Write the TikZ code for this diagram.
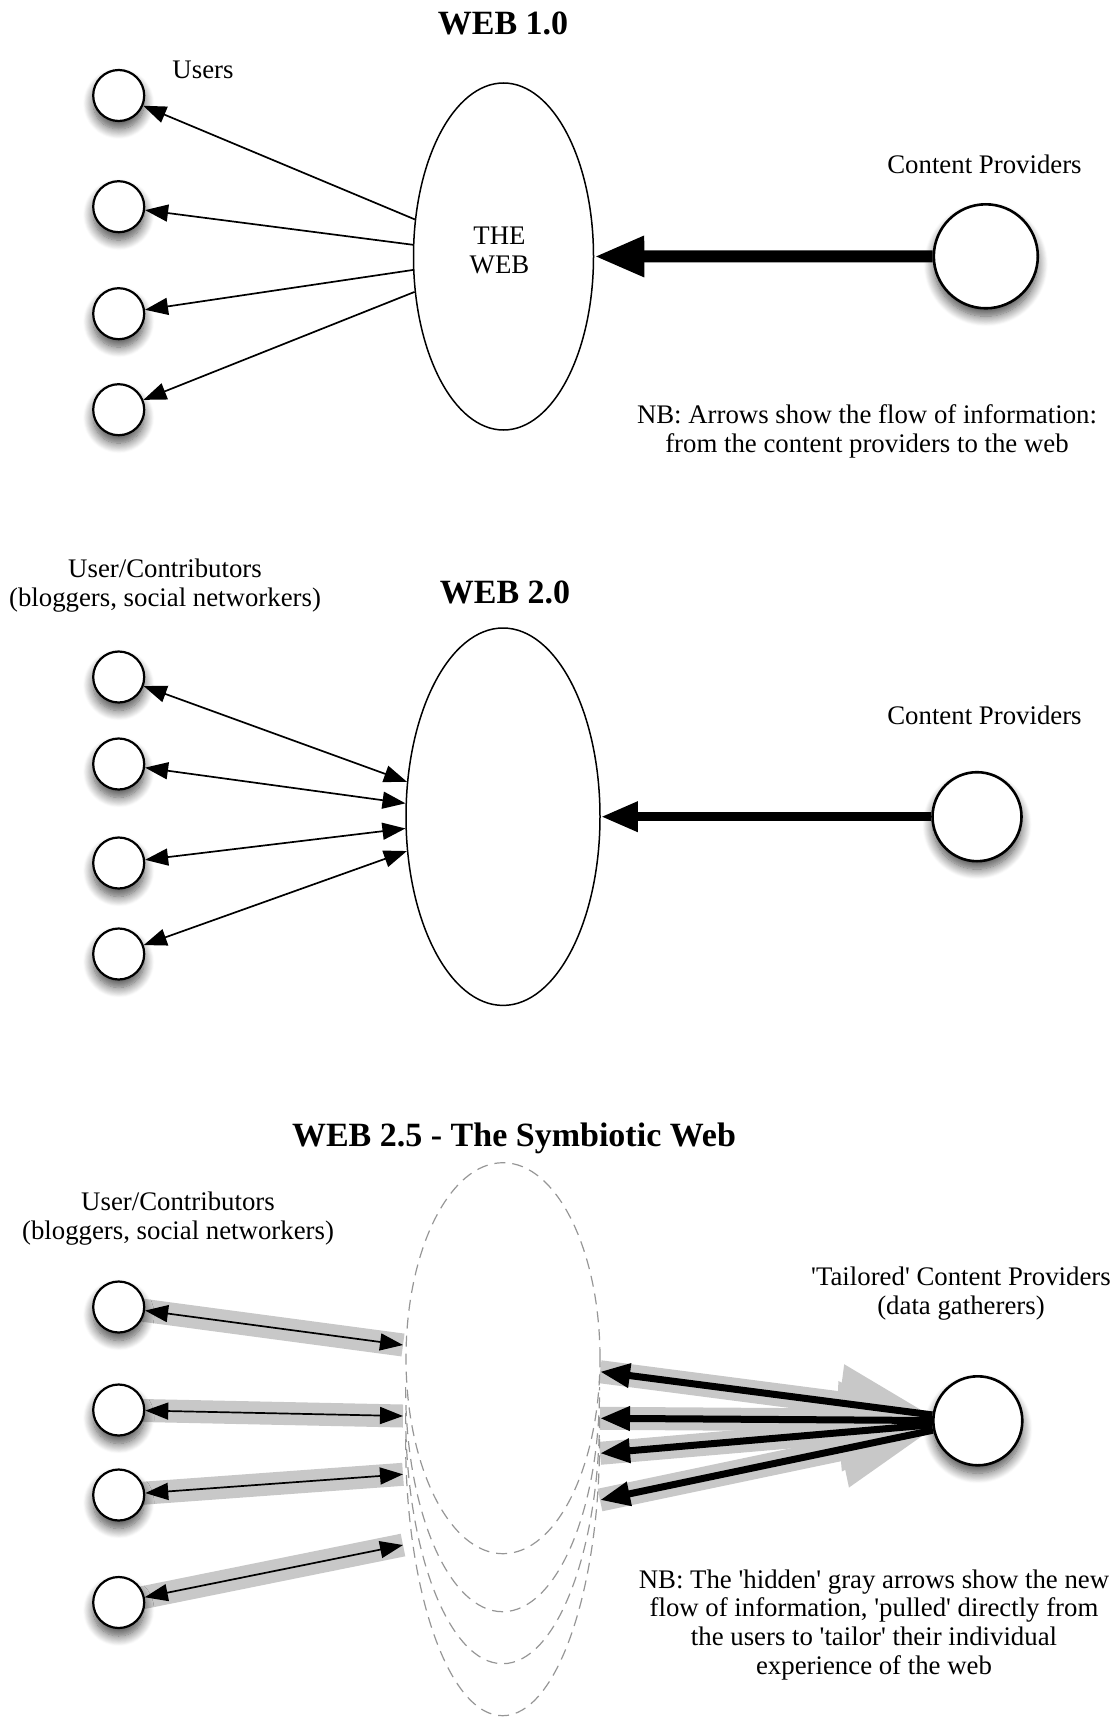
\documentclass[tikz,border=0pt]{standalone}
\usepackage{fontspec}
\setmainfont{Liberation Serif}
\usetikzlibrary{shapes.geometric,arrows.meta,shadows.blur,backgrounds}

\definecolor{bandgray}{RGB}{200,200,200}
\definecolor{dashgray}{RGB}{150,150,150}
\newcommand\lblfont{\fontsize{13.4}{14.3}\selectfont}
\newcommand\ttlfont{\fontsize{17}{20}\selectfont\bfseries}
\newcommand\sqt{\textquotesingle}

\tikzset{
  user/.style={circle, draw, fill=white, line width=1.1pt, minimum size=25.5pt, inner sep=0pt,
    blur shadow={shadow xshift=0pt, shadow yshift=-4pt, shadow opacity=70,
                 shadow blur radius=5pt, shadow blur steps=12}},
  provider/.style={user, line width=1.3pt},
  web/.style={ellipse, draw, line width=0.75pt, inner sep=0pt},
  hiddenline/.style={draw=dashgray, line width=0.6pt, dash pattern=on 5.5pt off 3.5pt},
  hiddenweb/.style={ellipse, inner sep=0pt, minimum width=97pt},
  title/.style={font=\ttlfont, anchor=base, inner sep=0pt},
  lbl/.style={font=\lblfont, anchor=base, align=center, inner sep=0pt},
  pointer/.style={line width=0.85pt, -{Triangle[length=11.5pt,width=8.5pt]}},
  twoway/.style={line width=0.85pt,
    {Triangle[length=11.5pt,width=8.5pt]}-{Triangle[length=11.5pt,width=8.5pt]}},
  band/.style={draw=bandgray, line width=11.5pt},
  pull/.style={line width=3.5pt, -{Triangle[length=15pt,width=11.5pt]}}
}

\begin{document}
\begin{tikzpicture}[x=0.5pt, y=-0.5pt]
\useasboundingbox (0,0) rectangle (1118,1718);

% ---------------- WEB 1.0 ----------------
\node[title] (t1) at (503,34.5) {WEB 1.0};
\node[lbl] (users) at (203,78.3) {Users};
\node[user] (u1) at (118.7,95.5) {};
\node[user] (u2) at (118.7,206.7) {};
\node[user] (u3) at (118.7,313.7) {};
\node[user] (u4) at (118.7,409.7) {};
\node[web, minimum width=90pt, minimum height=173.5pt] (w1) at (503.5,256.5) {};
\node[lbl] (w1txt) at (499.5,273) {THE\\WEB};
\node[provider, minimum size=52pt] (cp1) at (985.8,256.3) {};
\node[lbl] (cp1lbl) at (984.5,173) {Content Providers};
\node[lbl] (nb1) at (867,452.5) {NB: Arrows show the flow of information:\\from the content providers to the web};
\foreach \i in {1,...,4} \draw[pointer] (w1) -- (u\i);
\draw[line width=6pt, -{Triangle[length=25pt,width=19pt]}] (cp1) -- (w1);

% ---------------- WEB 2.0 ----------------
\node[title] (t2) at (505,603) {WEB 2.0};
\node[lbl] (uc2) at (165,606) {User/Contributors\\(bloggers, social networkers)};
\node[user] (v1) at (118.7,677) {};
\node[user] (v2) at (118.7,764) {};
\node[user] (v3) at (118.7,863) {};
\node[user] (v4) at (118.7,954) {};
\node[web, minimum width=97pt, minimum height=188.7pt] (w2) at (503,816.7) {};
\node[provider, minimum size=44.5pt] (cp2) at (977,816.7) {};
\node[lbl] (cp2lbl) at (984.5,724) {Content Providers};
\foreach \i in {1,...,4} \draw[twoway] (v\i) -- (w2);
\draw[line width=4.5pt, -{Triangle[length=18.5pt,width=14pt]}] (cp2) -- (w2);

% ---------------- WEB 2.5 ----------------
\node[title] (t3) at (514,1146.5) {WEB 2.5 - The Symbiotic Web};
\node[lbl] (uc3) at (178,1239.3) {User/Contributors\\(bloggers, social networkers)};

% the web, stretching downwards: one full outline, three lower halves
\node[hiddenweb, minimum height=195.5pt] (h1) at (503,1358.2) {};
\node[hiddenweb, minimum height=224.5pt] (h2) at (503,1387.2) {};
\node[hiddenweb, minimum height=250.5pt] (h3) at (503,1413.2) {};
\node[hiddenweb, minimum height=276.5pt] (h4) at (503,1439.2) {};
\draw[hiddenline] (h1.center) ellipse[x radius=48.5pt, y radius=97.75pt];
\draw[hiddenline] (h2.west) arc[start angle=180, end angle=360, x radius=48.5pt, y radius=112.25pt];
\draw[hiddenline] (h3.west) arc[start angle=180, end angle=360, x radius=48.5pt, y radius=125.25pt];
\draw[hiddenline] (h4.west) arc[start angle=180, end angle=360, x radius=48.5pt, y radius=138.25pt];

\node[user] (x1) at (118.7,1307) {};
\node[user] (x2) at (118.7,1410) {};
\node[user] (x3) at (118.7,1495) {};
\node[user] (x4) at (118.7,1602.5) {};

\coordinate (l1) at (403,1345);
\coordinate (l2) at (403,1416);
\coordinate (l3) at (403,1474.3);
\coordinate (l4) at (403,1545);
\coordinate (r1) at (600,1371.7);
\coordinate (r2) at (600,1418.3);
\coordinate (r3) at (600,1453.3);
\coordinate (r4) at (600,1500);

\node[provider, minimum size=44.5pt] (cp3) at (977.8,1420.8) {};
\node[lbl] (cp3lbl) at (961,1314.3) {\sqt Tailored\sqt{} Content Providers\\(data gatherers)};
\node[lbl] (nb3) at (874,1674) {NB: The \sqt hidden\sqt{} gray arrows show the new\\flow of information, \sqt pulled\sqt{} directly from\\the users to \sqt tailor\sqt{} their individual\\experience of the web};

% hidden gray flow underneath
\begin{pgfonlayer}{background}
  \foreach \i in {1,...,4} \draw[band] (x\i.center) -- (l\i);
  \foreach \i in {1,...,4}
    \draw[band, -{Triangle[length=47pt,width=35pt]}] (r\i) -- (cp3);
\end{pgfonlayer}

\foreach \i in {1,...,4} \draw[twoway] (x\i) -- (l\i);
\foreach \i in {1,...,4} \draw[pull] (cp3) -- (r\i);

\end{tikzpicture}
\end{document}
